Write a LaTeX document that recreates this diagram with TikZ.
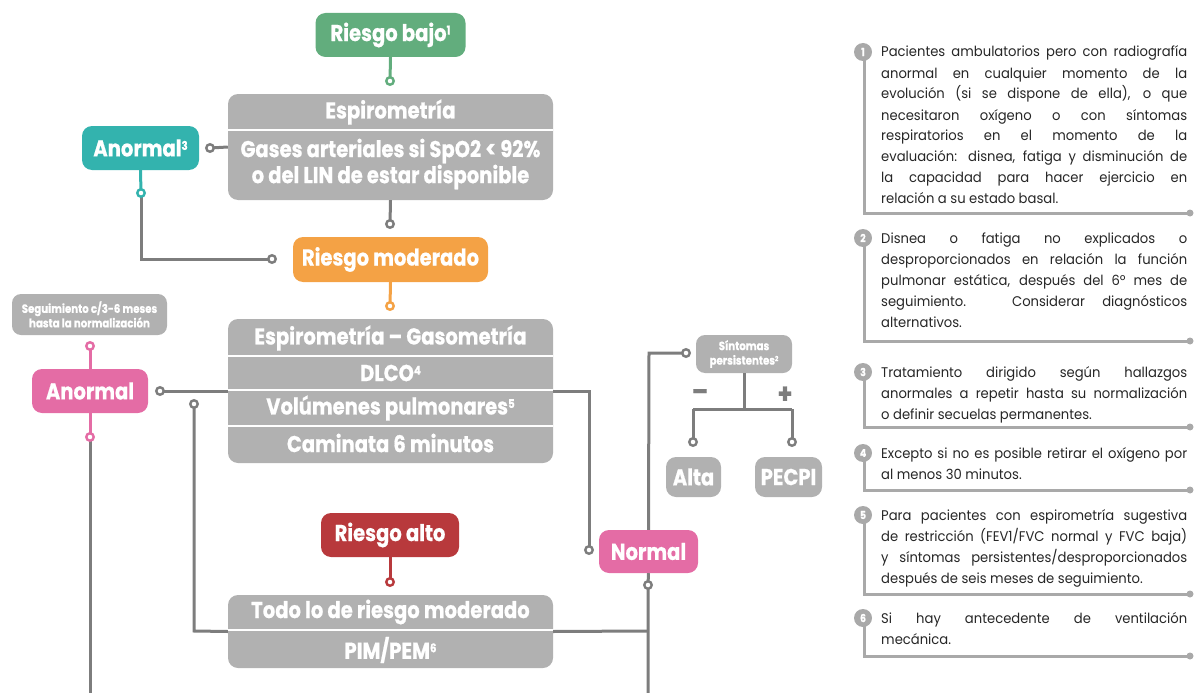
\documentclass[tikz,border=0pt]{standalone}
\usepackage{fontspec}
\setmainfont{Poppins}[FakeStretch=0.85, BoldFeatures={FakeBold=0.6}]
\newfontfamily\notefont{Poppins}[FakeStretch=0.94]
\newcommand\supx[1]{\raisebox{6.5pt}{\fontsize{12}{12}\selectfont #1}}
\newcommand\supsmall[1]{\raisebox{3.5pt}{\fontsize{7}{7}\selectfont #1}}
\definecolor{cgreen}{HTML}{62AD7D}
\definecolor{cteal}{HTML}{33B3AE}
\definecolor{corange}{HTML}{F4A245}
\definecolor{cpink}{HTML}{E46CA5}
\definecolor{cred}{HTML}{B8393C}
\definecolor{cbox}{HTML}{B1B1B1}
\definecolor{cline}{HTML}{7D7D7D}
\definecolor{cnote}{HTML}{A9A9A9}
\definecolor{ctext}{HTML}{262626}
\begin{document}
\begin{tikzpicture}[x=1pt,y=-1pt,
  mybox/.style={fill=#1, rounded corners=10pt, text=white, inner sep=0pt,
    font=\bfseries\fontsize{23}{26}\selectfont},
  boxtxt/.style={text=white, inner sep=0pt, font=\bfseries\fontsize{23}{26}\selectfont},
  smalltxt/.style={text=white, inner sep=0pt, align=center, font=\bfseries\fontsize{12}{14.5}\selectfont},
  ring/.style={circle, draw=#1, fill=white, line width=2.4pt, minimum size=7.5pt, inner sep=0pt},
  conn/.style={draw=#1, line width=3pt},
  sepline/.style={draw=white, line width=1.5pt},
  numc/.style={circle, fill=cnote, text=white, inner sep=0pt, minimum size=18pt,
    font=\bfseries\fontsize{11}{12}\selectfont},
  noteline/.style={draw=cnote, line width=3pt},
  notetxt/.style={anchor=base west, inner sep=0pt, text width=306pt, align=justify, text=ctext,
    font=\notefont\fontsize{14}{21}\selectfont},
  sign/.style={text=cline, inner sep=0pt, font=\bfseries\fontsize{28}{30}\selectfont}
]
\useasboundingbox (0,0) rectangle (1197,693);

% ---------- boxes ----------
\node[mybox=cgreen, minimum width=150pt, minimum height=44pt] (bajo) at (390.5,35) {Riesgo bajo\supx{1}};
\node[mybox=cbox, minimum width=325pt, minimum height=106pt] (esp) at (390.5,147) {};
\draw[sepline] (228,130) -- (553,130);
\node[boxtxt] (esp1) at (390.5,112) {Espirometría};
\node[boxtxt] (esp2) at (390.5,151) {Gases arteriales si SpO2 < 92\%};
\node[boxtxt] (esp3) at (390.5,177) {o del LIN de estar disponible};

\node[mybox=cteal, minimum width=117pt, minimum height=44pt] (anor3) at (140.5,148) {Anormal\supx{3}};
\node[mybox=corange, minimum width=195pt, minimum height=45pt] (mod) at (390.5,259.5) {Riesgo moderado};

\node[mybox=cbox, minimum width=325pt, minimum height=144pt] (big) at (390.5,391) {};
\draw[sepline] (228,356) -- (553,356);
\draw[sepline] (228,390) -- (553,390);
\draw[sepline] (228,426) -- (553,426);
\node[boxtxt] (big1) at (390.5,338) {Espirometría -- Gasometría};
\node[boxtxt] (big2) at (390.5,373) {DLCO\supx{4}};
\node[boxtxt] (big3) at (390.5,408) {Volúmenes pulmonares\supx{5}};
\node[boxtxt] (big4) at (390.5,443) {Caminata 6 minutos};

\node[mybox=cbox, minimum width=155pt, minimum height=41pt, rounded corners=9pt] (seg) at (89.5,314.5) {};
\node[smalltxt] (segt) at (89.5,314.5) {Seguimiento c/3-6 meses\\hasta la normalización};
\node[mybox=cpink, minimum width=116pt, minimum height=44pt] (anor) at (90,391) {Anormal};

\node[mybox=cred, minimum width=138pt, minimum height=44pt] (alto) at (390,535) {Riesgo alto};
\node[mybox=cbox, minimum width=325pt, minimum height=73pt] (todo) at (390.5,631.5) {};
\draw[sepline] (228,630) -- (553,630);
\node[boxtxt] (todo1) at (390.5,612) {Todo lo de riesgo moderado};
\node[boxtxt] (todo2) at (390.5,650) {PIM/PEM\supx{6}};

\node[mybox=cpink, minimum width=99pt, minimum height=43pt] (normal) at (648.5,551.5) {Normal};
\node[mybox=cbox, minimum width=96pt, minimum height=38pt, rounded corners=9pt] (sint) at (744,354) {};
\node[smalltxt] (sintt) at (744,354) {Síntomas\\persistentes\supsmall{2}};
\node[mybox=cbox, minimum width=55pt, minimum height=40pt] (alta) at (693.5,477) {Alta};
\node[mybox=cbox, minimum width=67pt, minimum height=40pt] (pecpi) at (788.5,477) {PECPI};
\node[sign] (minus) at (700,395) {--};
\node[sign] (plus) at (785,395) {+};

% ---------- connectors ----------
\coordinate (bot1) at (90,693);
\coordinate (bot2) at (648,693);
\coordinate (k1) at (141,259);
\coordinate (k2) at (589,391);
\coordinate (k3) at (649,353);
\coordinate (k4) at (744,409);
\coordinate (k5) at (693,409);
\coordinate (k6) at (792,409);
\coordinate (k7) at (194,631);
\coordinate (k8) at (648,631);

\draw[conn=cgreen] (bajo.south) -- (390,81);
\draw[conn=cline] (esp.west) -- (210,148);
\draw[conn=cteal] (anor3.south) -- (141,193);
\draw[conn=cline] (141,193) -- (k1) -- (272,259);
\draw[conn=cline] (esp.south) -- (390,224);
\draw[conn=corange] (mod.south) -- (390,306);
\draw[conn=cpink] (anor.north) -- (90,346);
\draw[conn=cpink] (anor.south) -- (90,437);
\draw[conn=cline] (90,437) -- (bot1);
\draw[conn=cline] (big.west) -- (160,391);
\draw[conn=cred] (alto.south) -- (390,582);
\draw[conn=cline] (todo.west) -- (k7) -- (194,404);
\draw[conn=cline] (big.east) -- (k2) -- (589,550);
\draw[conn=cline] (normal.north) -- (k3) -- (686,353);
\draw[conn=cline] (sint.south) -- (k4);
\draw[conn=cline] (k5) -- (k6);
\draw[conn=cline] (k5) -- (693,442);
\draw[conn=cline] (k6) -- (792,442);
\draw[conn=cline] (normal.south) -- (648,585) -- (bot2);
\draw[conn=cline] (todo.east) -- (k8);

\node[ring=cgreen] (r1) at (390,81) {};
\node[ring=cline] (r2) at (210,148) {};
\node[ring=cteal] (r3) at (141,193) {};
\node[ring=cline] (r4) at (272,259) {};
\node[ring=cline] (r5) at (390,224) {};
\node[ring=corange] (r6) at (390,306) {};
\node[ring=cpink] (r7) at (90,346) {};
\node[ring=cpink] (r8) at (90,437) {};
\node[ring=cline] (r9) at (160,391) {};
\node[ring=cred] (r10) at (390,582) {};
\node[ring=cline] (r11) at (194,404) {};
\node[ring=cline] (r12) at (589,550) {};
\node[ring=cline] (r13) at (686,353) {};
\node[ring=cline] (r14) at (693,442) {};
\node[ring=cline] (r15) at (792,442) {};
\node[ring=cline] (r16) at (648,585) {};

% ---------- notes ----------
\foreach \n/\y/\e in {1/52/213, 2/238/341, 3/372/427, 4/453/490, 5/515/594, 6/618/656}{
  \coordinate (e\n) at (1190,\e);
  \draw[noteline] (864,\y) |- (e\n);
  \fill[cnote] (e\n) circle (3.5pt);
  \node[numc] (n\n) at (863,\y) {\n};
}
\node[notetxt] (t1) at (881,57) {Pacientes ambulatorios pero con radiografía\linebreak
anormal en cualquier momento de la\linebreak
evolución (si se dispone de ella), o que\linebreak
necesitaron oxígeno o con síntomas\linebreak
respiratorios en el momento de la\linebreak
evaluación: disnea, fatiga y disminución de\linebreak
la capacidad para hacer ejercicio en\linebreak
relación a su estado basal.};
\node[notetxt] (t2) at (881,243) {Disnea o fatiga no explicados o\linebreak
desproporcionados en relación la función\linebreak
pulmonar estática, después del 6º mes de\linebreak
seguimiento. Considerar diagnósticos\linebreak
alternativos.};
\node[notetxt] (t3) at (881,377) {Tratamiento dirigido según hallazgos\linebreak
anormales a repetir hasta su normalización\linebreak
o definir secuelas permanentes.};
\node[notetxt] (t4) at (881,458) {Excepto si no es posible retirar el oxígeno por\linebreak
al menos 30 minutos.};
\node[notetxt] (t5) at (881,520) {Para pacientes con espirometría sugestiva\linebreak
de restricción (FEV1/FVC normal y FVC baja)\linebreak
y síntomas persistentes/desproporcionados\linebreak
después de seis meses de seguimiento.};
\node[notetxt] (t6) at (881,623) {Si hay antecedente de ventilación\linebreak
mecánica.};
\end{tikzpicture}
\end{document}
